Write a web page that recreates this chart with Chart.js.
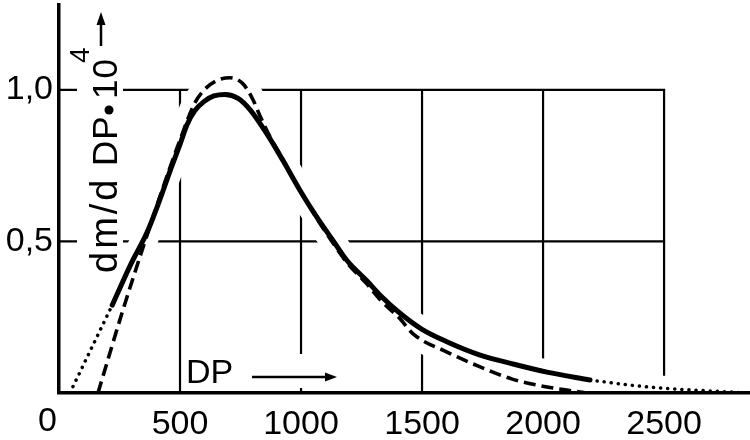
<!DOCTYPE html>
<html><head><meta charset="utf-8">
<script src="https://cdn.jsdelivr.net/npm/chart.js@4.4.1/dist/chart.umd.min.js"></script>
<style>html,body{margin:0;padding:0;background:#fff}canvas{display:block}</style>
</head><body>
<canvas id="c" width="750" height="440"></canvas>
<script>
const FONT = "'Liberation Sans Narrow', 'Liberation Sans', sans-serif";

// tick labels / grid positions
const xTicks = [500, 1000, 1500, 2000, 2500];
const yTicks = [0.5, 1.0];
const gridX = [500, 1000, 1500, 2000, 2500];
const gridY = [0.5, 1.0];

// solid curve (measured part)
const solidDP = [220, 300, 364, 420, 459, 500, 529, 560, 600, 640, 686, 740, 789, 859, 926, 996, 1066, 1132, 1190, 1272, 1330, 1409, 1500, 1600, 1740, 1880, 2016, 2194];
const solidY  = [0.29, 0.43, 0.53, 0.645, 0.733, 0.82, 0.885, 0.93, 0.962, 0.98, 0.985, 0.972, 0.935, 0.855, 0.766, 0.668, 0.579, 0.503, 0.437, 0.37, 0.32, 0.263, 0.21, 0.17, 0.125, 0.095, 0.069, 0.043];

// dotted extrapolations of the solid curve
const dotHeadDP = [45, 220];
const dotHeadY  = [0, 0.29];
const dotTailDP = [2194, 2359, 2496, 2636, 2780, 2855];
const dotTailY  = [0.043, 0.026, 0.016, 0.009, 0.003, 0];

// dashed curve
const dashDP = [161, 260, 347, 420, 500, 560, 600, 650, 707, 760, 800, 830, 872, 926, 996, 1066, 1132, 1190, 1272, 1330, 1409, 1463, 1603, 1740, 1876, 2016, 2120, 2180];
const dashY  = [0, 0.263, 0.48, 0.655, 0.835, 0.955, 1.0, 1.03, 1.04, 1.02, 0.97, 0.915, 0.845, 0.77, 0.668, 0.575, 0.495, 0.43, 0.36, 0.305, 0.245, 0.195, 0.135, 0.086, 0.045, 0.02, 0.007, 0];

const pts = (xs, ys) => xs.map((x, i) => ({x: x, y: ys[i]}));

const base = {pointRadius: 0, fill: false, cubicInterpolationMode: 'monotone'};
// white halos break the grid lines where the curves cross them
const halo = (xs, ys) => Object.assign({}, base, {data: pts(xs, ys), borderColor: '#fff', borderWidth: 25, borderCapStyle: 'round', order: 10});

const decor = {
  id: 'decor',
  beforeDatasetsDraw(chart) {
    const {ctx, scales: {x, y}} = chart;
    ctx.save();
    ctx.strokeStyle = '#000';
    ctx.lineWidth = 2.2;
    const x0 = x.getPixelForValue(0), x1 = x.getPixelForValue(2500);
    const y0 = y.getPixelForValue(0), y1 = y.getPixelForValue(1.0);
    gridY.forEach(v => { const p = y.getPixelForValue(v); ctx.beginPath(); ctx.moveTo(x0, p); ctx.lineTo(x1 + 1, p); ctx.stroke(); });
    gridX.forEach(v => { const p = x.getPixelForValue(v); ctx.beginPath(); ctx.moveTo(p, y0); ctx.lineTo(p, y1 - 1); ctx.stroke(); });
    ctx.fillStyle = '#fff';
    ctx.fillRect(77, 6, 46, 270);
    ctx.fillRect(184, 354, 156, 34);
    ctx.restore();
  },
  afterDatasetsDraw(chart) {
    const {ctx} = chart;
    ctx.save();
    ctx.fillStyle = '#000';
    ctx.strokeStyle = '#000';
    // origin label
    ctx.font = "34px " + FONT;
    ctx.textAlign = 'right';
    ctx.textBaseline = 'middle';
    ctx.fillText('0', 57, 422);
    // x title
    ctx.textAlign = 'left';
    ctx.textBaseline = 'alphabetic';
    ctx.fillText('DP', 186, 383);
    ctx.lineWidth = 2.5;
    ctx.beginPath(); ctx.moveTo(252, 377); ctx.lineTo(328, 377); ctx.stroke();
    ctx.beginPath(); ctx.moveTo(337, 377); ctx.lineTo(325, 372.5); ctx.lineTo(325, 381.5); ctx.closePath(); ctx.fill();
    // y title (rotated)
    ctx.save();
    ctx.translate(117, 0);
    ctx.rotate(-Math.PI / 2);
    ctx.font = "38px " + FONT;
    ctx.letterSpacing = '3px';
    ctx.fillText('dm/d', -273, 0);
    ctx.font = "35px " + FONT;
    ctx.letterSpacing = '1px';
    ctx.fillText('DP', -166, 0);
    ctx.fillText('10', -99, 0);
    ctx.letterSpacing = '0px';
    ctx.font = "28px " + FONT;
    ctx.fillText('4', -63, -28);
    ctx.restore();
    // bullet
    ctx.beginPath(); ctx.arc(109, 110, 4.5, 0, Math.PI * 2); ctx.fill();
    // y arrow
    ctx.lineWidth = 2.5;
    ctx.beginPath(); ctx.moveTo(101, 46); ctx.lineTo(101, 22); ctx.stroke();
    ctx.beginPath(); ctx.moveTo(101, 12); ctx.lineTo(96.5, 25); ctx.lineTo(105.5, 25); ctx.closePath(); ctx.fill();
    ctx.restore();
  }
};

new Chart(document.getElementById('c'), {
  type: 'line',
  data: {
    datasets: [
      halo(solidDP, solidY),
      halo(dashDP, dashY),
      halo(dotTailDP, dotTailY),
      Object.assign({}, base, {data: pts(solidDP, solidY), borderColor: '#000', borderWidth: 5, borderCapStyle: 'round', order: 1}),
      Object.assign({}, base, {data: pts(dashDP, dashY), borderColor: '#000', borderWidth: 3.6, borderDash: [12, 6], order: 2}),
      Object.assign({}, base, {data: pts(dotHeadDP, dotHeadY), borderColor: '#000', borderWidth: 3.5, borderDash: [0.1, 7], borderCapStyle: 'round', order: 2}),
      Object.assign({}, base, {data: pts(dotTailDP, dotTailY), borderColor: '#000', borderWidth: 3.5, borderDash: [0.1, 7], borderCapStyle: 'round', order: 2})
    ]
  },
  options: {
    responsive: false,
    animation: false,
    devicePixelRatio: 1,
    layout: {padding: {left: 0, right: 0, top: 5, bottom: 0}},
    plugins: {legend: {display: false}, tooltip: {enabled: false}},
    scales: {
      x: {
        type: 'linear', min: 0, max: 2855,
        afterBuildTicks: s => { s.ticks = xTicks.map(v => ({value: v})); },
        afterFit: s => { s.height = 47; s.paddingLeft = 0; s.paddingRight = 0; },
        grid: {display: false, drawTicks: false},
        border: {display: true, color: '#000', width: 3.5, z: 1},
        ticks: {color: '#000', font: {family: FONT, size: 34}, padding: 11, maxRotation: 0, autoSkip: false, callback: v => String(v)}
      },
      y: {
        type: 'linear', min: 0, max: 1.28,
        afterBuildTicks: s => { s.ticks = yTicks.map(v => ({value: v})); },
        afterFit: s => { s.width = 59; s.paddingTop = 0; s.paddingBottom = 0; },
        grid: {display: false, drawTicks: false},
        border: {display: true, color: '#000', width: 3.5, z: 1},
        ticks: {color: '#000', font: {family: FONT, size: 34}, padding: 6, callback: v => Number(v).toFixed(1).replace('.', ',')}
      }
    }
  },
  plugins: [decor]
});
</script>
</body></html>
